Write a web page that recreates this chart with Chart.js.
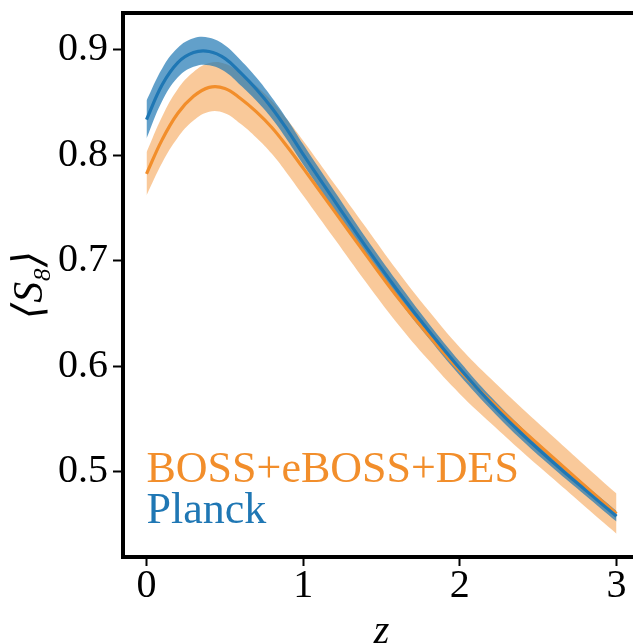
<!DOCTYPE html>
<html>
<head>
<meta charset="utf-8">
<script src="https://cdn.jsdelivr.net/npm/chart.js@4/dist/chart.umd.min.js"></script>
<style>
  html, body { margin: 0; padding: 0; background: #fff; overflow: hidden; }
  #wrap { width: 660px; height: 656px; }
</style>
</head>
<body>
<div id="wrap"><canvas id="chart" width="660" height="656"></canvas></div>
<script>
// ── Data ─────────────────────────────────────────────────────────────────────

const Z = [0, 0.1, 0.2, 0.3, 0.4, 0.5, 0.6, 0.7, 0.8, 0.9, 1.0,
           1.2, 1.4, 1.6, 1.8, 2.0, 2.2, 2.4, 2.6, 2.8, 3.0];

const PLANCK_MID = [0.834, 0.867, 0.888, 0.8975, 0.8985, 0.892, 0.8785, 0.863, 0.845, 0.824, 0.801,
                    0.757, 0.7135, 0.6725, 0.634, 0.598, 0.565, 0.5355, 0.5085, 0.483, 0.458];
const PLANCK_HI  = [0.852, 0.8825, 0.902, 0.911, 0.9115, 0.9045, 0.8905, 0.874, 0.855, 0.8338, 0.8105,
                    0.766, 0.722, 0.6805, 0.641, 0.6045, 0.571, 0.5415, 0.514, 0.488, 0.463];
const PLANCK_LO  = [0.816, 0.8515, 0.874, 0.884, 0.8855, 0.8795, 0.8665, 0.852, 0.835, 0.8142, 0.7915,
                    0.748, 0.705, 0.6645, 0.627, 0.5915, 0.559, 0.5295, 0.503, 0.478, 0.453];

const DES_MID = [0.7825, 0.815, 0.840, 0.856, 0.8645, 0.8635, 0.854, 0.8415, 0.8265, 0.808, 0.788,
                 0.747, 0.706, 0.666, 0.6295, 0.596, 0.567, 0.5395, 0.513, 0.4865, 0.4605];
const DES_HI  = [0.803, 0.837, 0.863, 0.879, 0.8875, 0.887, 0.878, 0.866, 0.8515, 0.8335, 0.814,
                 0.773, 0.732, 0.691, 0.653, 0.618, 0.588, 0.560, 0.533, 0.506, 0.4795];
const DES_LO  = [0.762, 0.793, 0.817, 0.833, 0.8415, 0.840, 0.830, 0.817, 0.8015, 0.7825, 0.762,
                 0.721, 0.680, 0.641, 0.606, 0.574, 0.546, 0.519, 0.493, 0.467, 0.4415];

const SERIES_NAMES = ['BOSS+eBOSS+DES', 'Planck'];
const X_TICKS = [0, 1, 2, 3];
const Y_TICKS = [0.5, 0.6, 0.7, 0.8, 0.9];

// ── Style ────────────────────────────────────────────────────────────────────

const ORANGE = '#f28e2b';
const BLUE   = '#1f77b4';
const ORANGE_BAND = 'rgba(242,142,43,0.48)';
const BLUE_BAND   = 'rgba(31,119,180,0.7)';
const SERIF = '"Liberation Serif", "DejaVu Serif", serif';

const toPts = ys => Z.map((z, i) => ({ x: z, y: ys[i] }));

function bandEdge(ys, fill, color, order) {
  return { data: toPts(ys), fill, backgroundColor: color, borderWidth: 0, pointRadius: 0,
           tension: 0.4, order };
}

function line(label, ys, color, order) {
  return { label, data: toPts(ys), borderColor: color, borderWidth: 3.2, pointRadius: 0,
           fill: false, tension: 0.4, order };
}

// ── Plugins ──────────────────────────────────────────────────────────────────

const frame = {
  id: 'frame',
  afterDraw(chart) {
    const { ctx, chartArea: a } = chart;
    ctx.save();
    ctx.strokeStyle = '#000';
    ctx.lineWidth = 4;
    ctx.beginPath();
    ctx.moveTo(a.left - 2, a.top);
    ctx.lineTo(a.right, a.top);
    ctx.lineTo(a.right, a.bottom);
    ctx.stroke();
    ctx.restore();
  }
};

const seriesText = {
  id: 'seriesText',
  afterDatasetsDraw(chart) {
    const { ctx, chartArea: a, scales: { x } } = chart;
    const left = x.getPixelForValue(0);
    const colors = [ORANGE, BLUE];
    ctx.save();
    ctx.font = `44px ${SERIF}`;
    ctx.textAlign = 'left';
    ctx.textBaseline = 'alphabetic';
    SERIES_NAMES.forEach((name, i) => {
      ctx.fillStyle = colors[i];
      ctx.fillText(name, left, a.bottom - 75 + i * 41);
    });
    ctx.restore();
  }
};

// ── Chart ────────────────────────────────────────────────────────────────────

const tickFont = { family: SERIF, size: 40, lineHeight: 1 };

new Chart(document.getElementById('chart'), {
  type: 'line',
  data: {
    datasets: [
      bandEdge(DES_HI, '+1', ORANGE_BAND, 4),
      bandEdge(DES_LO, false, 'transparent', 4),
      bandEdge(PLANCK_HI, '+1', BLUE_BAND, 3),
      bandEdge(PLANCK_LO, false, 'transparent', 3),
      line(SERIES_NAMES[0], DES_MID, ORANGE, 2),
      line(SERIES_NAMES[1], PLANCK_MID, BLUE, 1)
    ]
  },
  options: {
    responsive: false,
    animation: false,
    devicePixelRatio: 1,
    layout: { padding: { top: 13, right: 20, left: 0, bottom: 0 } },
    plugins: { legend: { display: false }, tooltip: { enabled: false } },
    scales: {
      x: {
        type: 'linear', min: -0.15, max: 3.15,
        afterBuildTicks: s => { s.ticks = X_TICKS.map(v => ({ value: v })); },
        afterFit: s => { s.height = 99; s.paddingLeft = 0; s.paddingRight = 0; },
        grid: { display: true, drawOnChartArea: false, drawTicks: true, tickLength: 9, tickWidth: 2, tickColor: '#000' },
        border: { display: true, color: '#000', width: 4 },
        ticks: { color: '#000', font: tickFont, padding: 0, maxRotation: 0, autoSkip: false },
        title: { display: true, text: 'z', color: '#000', font: { family: SERIF, size: 40, style: 'italic', lineHeight: 1.2 }, padding: { top: 0, bottom: 0 } }
      },
      y: {
        type: 'linear', min: 0.4194, max: 0.935,
        afterBuildTicks: s => { s.ticks = Y_TICKS.map(v => ({ value: v })); },
        afterFit: s => { s.width = 123; s.paddingTop = 0; s.paddingBottom = 0; },
        grid: { display: true, drawOnChartArea: false, drawTicks: true, tickLength: 10, tickWidth: 2, tickColor: '#000' },
        border: { display: true, color: '#000', width: 4 },
        ticks: { color: '#000', font: tickFont, padding: 5, callback: v => v.toFixed(1) },
        title: { display: true, text: '⟨S₈⟩', color: '#000', font: { family: SERIF, size: 42, style: 'italic', lineHeight: 1.2 }, padding: { top: 6, bottom: 0 } }
      }
    }
  },
  plugins: [frame, seriesText]
});
</script>
</body>
</html>
